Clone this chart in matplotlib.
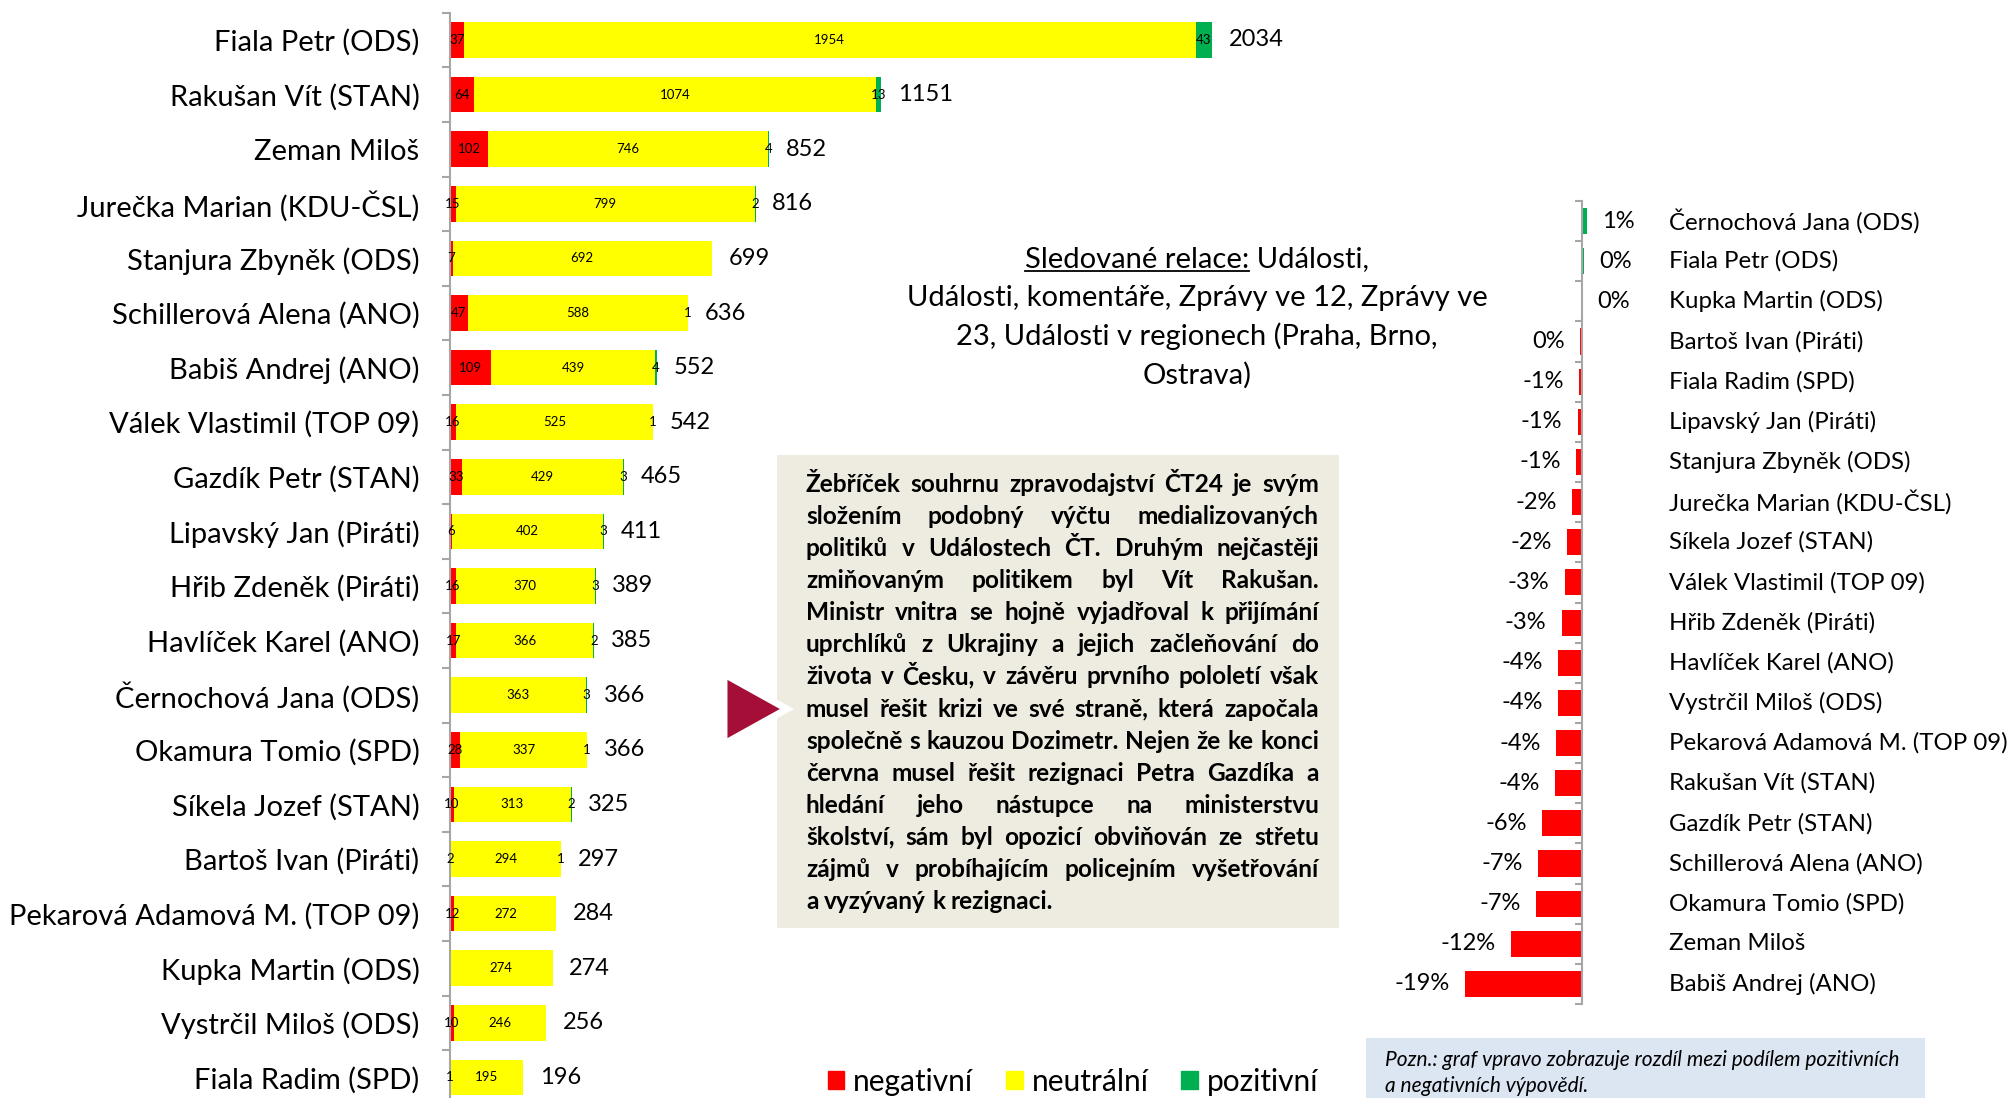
import matplotlib
matplotlib.use("Agg")
import matplotlib.pyplot as plt
import matplotlib.transforms as mtransforms
from matplotlib.patches import Patch, Polygon, Rectangle
import numpy as np

plt.rcParams['font.family'] = ['Lato', 'DejaVu Sans']

# left chart: number of statements per politician
names = ["Fiala Petr (ODS)", "Rakušan Vít (STAN)", "Zeman Miloš", "Jurečka Marian (KDU-ČSL)",
         "Stanjura Zbyněk (ODS)", "Schillerová Alena (ANO)", "Babiš Andrej (ANO)",
         "Válek Vlastimil (TOP 09)", "Gazdík Petr (STAN)", "Lipavský Jan (Piráti)",
         "Hřib Zdeněk (Piráti)", "Havlíček Karel (ANO)", "Černochová Jana (ODS)",
         "Okamura Tomio (SPD)", "Síkela Jozef (STAN)", "Bartoš Ivan (Piráti)",
         "Pekarová Adamová M. (TOP 09)", "Kupka Martin (ODS)", "Vystrčil Miloš (ODS)",
         "Fiala Radim (SPD)"]
negative = [37, 64, 102, 15, 7, 47, 109, 16, 33, 6, 16, 17, 0, 28, 10, 2, 12, 0, 10, 1]
neutral = [1954, 1074, 746, 799, 692, 588, 439, 525, 429, 402, 370, 366, 363, 337, 313, 294, 272, 274, 246, 195]
positive = [43, 13, 4, 2, 0, 1, 4, 1, 3, 3, 3, 2, 3, 1, 2, 1, 0, 0, 0, 0]

# right chart: share positive minus share negative (%)
net_names = ["Černochová Jana (ODS)", "Fiala Petr (ODS)", "Kupka Martin (ODS)", "Bartoš Ivan (Piráti)",
             "Fiala Radim (SPD)", "Lipavský Jan (Piráti)", "Stanjura Zbyněk (ODS)",
             "Jurečka Marian (KDU-ČSL)", "Síkela Jozef (STAN)", "Válek Vlastimil (TOP 09)",
             "Hřib Zdeněk (Piráti)", "Havlíček Karel (ANO)", "Vystrčil Miloš (ODS)",
             "Pekarová Adamová M. (TOP 09)", "Rakušan Vít (STAN)", "Gazdík Petr (STAN)",
             "Schillerová Alena (ANO)", "Okamura Tomio (SPD)", "Zeman Miloš", "Babiš Andrej (ANO)"]
net_pct = [0.8, 0.3, 0.0, -0.3, -0.51, -0.7, -1.0, -1.6, -2.46, -2.8, -3.3, -3.9, -3.9, -4.2,
           -4.4, -6.45, -7.2, -7.4, -11.5, -19.0]

legend_labels = ["negativní", "neutrální", "pozitivní"]

info_title = ["Sledované relace: Události,",
              "Události, komentáře, Zprávy ve 12, Zprávy ve",
              "23, Události v regionech (Praha, Brno,",
              "Ostrava)"]
box_lines = ["Žebříček souhrnu zpravodajství ČT24 je svým",
             "složením podobný výčtu medializovaných",
             "politiků v Událostech ČT. Druhým nejčastěji",
             "zmiňovaným politikem byl Vít Rakušan.",
             "Ministr vnitra se hojně vyjadřoval k přijímání",
             "uprchlíků z Ukrajiny a jejich začleňování do",
             "života v Česku, v závěru prvního pololetí však",
             "musel řešit krizi ve své straně, která započala",
             "společně s kauzou Dozimetr. Nejen že ke konci",
             "června musel řešit rezignaci Petra Gazdíka a",
             "hledání jeho nástupce na ministerstvu",
             "školství, sám byl opozicí obviňován ze střetu",
             "zájmů v probíhajícím policejním vyšetřování",
             "a vyzývaný k rezignaci."]
note_lines = ["Pozn.: graf vpravo zobrazuje rozdíl mezi podílem pozitivních",
              "a negativních výpovědí."]

RED, YEL, GRN = "#FF0000", "#FFFF00", "#00B050"
GREY = "#A6A6A6"

W, H = 2015, 1098
fig = plt.figure(figsize=(W / 100, H / 100), dpi=100)


def rect(x0, y0, x1, y1):
    # pixel box (origin top-left) -> figure fraction rect
    return [x0 / W, 1 - y1 / H, (x1 - x0) / W, (y1 - y0) / H]


# ---- left stacked bars
ax = fig.add_axes(rect(450, 12.7, 1300, 1104.7))
ax.set_facecolor("none")
y = np.arange(len(names))
neg, neu, pos = np.array(negative), np.array(neutral), np.array(positive)
b1 = ax.barh(y, neg, 0.65, color=RED)
b2 = ax.barh(y, neu, 0.65, left=neg, color=YEL)
b3 = ax.barh(y, pos, 0.65, left=neg + neu, color=GRN)
for bars, vals in ((b1, neg), (b2, neu), (b3, pos)):
    ax.bar_label(bars, labels=[str(v) if v else "" for v in vals], label_type="center", fontsize=9.5)
ax.bar_label(b3, labels=[str(t) for t in neg + neu + pos], padding=12, fontsize=17)
ax.set_xlim(0, 2269)
ax.set_ylim(len(names) - 0.5, -0.5)
ax.set_yticks(y, names, fontsize=21)
ax.set_yticks(np.arange(-0.5, len(names)), minor=True)
ax.tick_params(axis="y", which="major", length=0, pad=22)
ax.tick_params(axis="y", which="minor", length=6, width=1.5, color=GREY)
ax.set_xticks([])
for s in ("top", "right", "bottom"):
    ax.spines[s].set_visible(False)
ax.spines["left"].set_color(GREY)
ax.spines["left"].set_linewidth(1.5)

# ---- right diverging bars
ax2 = fig.add_axes(rect(1400, 201, 1600, 1004))
ax2.set_facecolor("none")
y2 = np.arange(len(net_names))
net = np.array(net_pct)
nb = ax2.barh(y2, net, 0.65, color=[GRN if v > 0 else RED for v in net])
ax2.bar_label(nb, labels=[f"{round(v)}%" for v in net], padding=11, fontsize=17)
ax2.set_xlim(-29.55, 2.92)
ax2.set_ylim(len(net_names) - 0.5, -0.5)
ax2.set_xticks([])
ax2.set_yticks([])
ax2.set_yticks(np.arange(-0.5, len(net_names)), minor=True)
ax2.tick_params(axis="y", which="minor", length=5, width=1.5, color=GREY)
for s in ("top", "right", "bottom"):
    ax2.spines[s].set_visible(False)
ax2.spines["left"].set_position(("data", 0))
ax2.spines["left"].set_color(GREY)
ax2.spines["left"].set_linewidth(1.5)
tr = mtransforms.blended_transform_factory(fig.transFigure, ax2.transData)
for i, n in enumerate(net_names):
    ax2.text(1669 / W, i, n, transform=tr, va="center", ha="left", fontsize=17.3)

# ---- legend
handles = [Patch(color=c) for c in (RED, YEL, GRN)]
fig.legend(handles, legend_labels, loc="center", bbox_to_anchor=(1073 / W, 1 - 1082 / H), ncol=3,
           frameon=False, fontsize=21.5, handlelength=0.55, handleheight=0.55,
           handletextpad=0.3, columnspacing=1.1)

# ---- overlay for annotations (pixel coordinates)
ov = fig.add_axes([0, 0, 1, 1])
ov.set_xlim(0, W)
ov.set_ylim(H, 0)
ov.axis("off")
r = fig.canvas.get_renderer()


def width_of(s, **kw):
    t = ov.text(0, 0, s, **kw)
    w = t.get_window_extent(r).width
    t.remove()
    return w


# info text with underlined heading
for i, line in enumerate(info_title):
    t = ov.text(1197, 267 + 39 * i, line, ha="center", va="baseline", fontsize=21)
    if i == 0:
        bb = t.get_window_extent(r)
        uw = width_of("Sledované relace:", fontsize=21)
        ov.plot([bb.x0, bb.x0 + uw], [271, 271], color="black", lw=1.3)

# commentary box
ov.add_patch(Rectangle((777, 455), 562, 473, facecolor="#EEECE1", edgecolor="none"))
ov.add_patch(Polygon([(724, 674), (787, 709), (724, 744)], closed=True, facecolor="#A50F37",
                     edgecolor="white", lw=5, joinstyle="miter"))
x0, x1 = 806, 1319
fs = 14
maxw = max(width_of(l, fontsize=fs, fontweight="bold") for l in box_lines)
fs = fs * (x1 - x0) / maxw * 0.995
for i, line in enumerate(box_lines):
    base = 492 + 32.08 * i
    words = line.split(" ")
    ws = [width_of(wd, fontsize=fs, fontweight="bold") for wd in words]
    if i == len(box_lines) - 1:
        gap = width_of("a a", fontsize=fs, fontweight="bold") - 2 * width_of("a", fontsize=fs, fontweight="bold")
    else:
        gap = ((x1 - x0) - sum(ws)) / (len(words) - 1)
    x = x0
    for wd, w in zip(words, ws):
        ov.text(x, base, wd, ha="left", va="baseline", fontsize=fs, fontweight="bold")
        x += w + gap

# note box
ov.add_patch(Rectangle((1366, 1038), 559, 70, facecolor="#DCE6F2", edgecolor="none"))
for i, line in enumerate(note_lines):
    ov.text(1385, 1066 + 26 * i, line, ha="left", va="baseline", fontsize=15, fontstyle="italic")

fig.savefig("out.png", dpi=100)
